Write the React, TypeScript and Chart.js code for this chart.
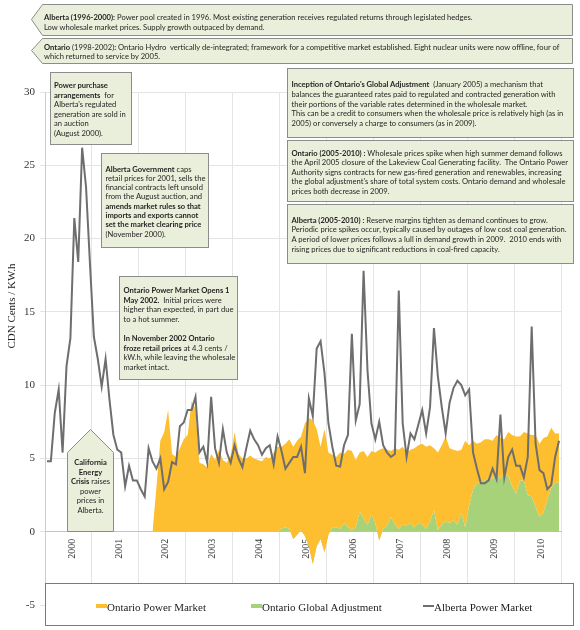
import React, { useEffect, useRef } from "react";
import { Chart, registerables } from "chart.js";

Chart.register(...registerables);

// ---------- data ----------
const startYear = 2000;
const yearLabels = ["2000", "2001", "2002", "2003", "2004", "2005", "2006", "2007", "2008", "2009", "2010"];
const yearGridLines = [2000, 2001, 2002, 2003, 2004, 2005, 2006, 2007, 2008, 2009, 2010, 2011];
const yAxisTitle = "CDN Cents / KW.h";
const legendLabels = ["Ontario Power Market", "Ontario Global Adjustment", "Alberta Power Market"];

// monthly, Jan 2000 .. Dec 2010
const albertaPowerMarket = [
  4.8, 4.8, 8.1, 9.7, 5.4, 11.3, 13.2, 21.4, 18.4, 26.2, 23.5, 18.3,
  13.3, 11.8, 9.9, 11.8, 9.0, 6.6, 5.6, 5.4, 3.1, 4.5, 3.5, 3.5,
  2.9, 2.4, 5.7, 4.8, 4.3, 5.0, 2.9, 3.4, 4.75, 4.6, 7.2, 7.45,
  8.3, 8.3, 9.2, 5.4, 5.8, 4.7, 9.2, 5.7, 4.7, 7.0, 5.4, 4.7,
  5.9, 5.0, 4.4, 5.7, 6.9, 6.3, 5.9, 5.25, 5.7, 5.9, 4.6, 6.5,
  5.5, 4.3, 4.7, 5.1, 5.1, 5.8, 4.0, 9.1, 7.9, 12.5, 13.0, 10.8,
  7.4, 5.8, 4.5, 4.45, 5.9, 6.6, 13.5, 7.6, 8.7, 17.8, 11.0, 7.4,
  6.3, 7.5, 5.9, 5.4, 5.1, 5.3, 16.45, 7.4, 5.1, 6.7, 6.3, 7.3,
  8.3, 6.7, 8.5, 13.9, 10.6, 8.5, 6.7, 8.8, 9.8, 10.3, 10.0, 9.3,
  9.7, 5.4, 4.3, 3.3, 3.3, 3.5, 4.3, 3.6, 8.0, 3.7, 5.1, 5.6,
  4.5, 4.5, 3.7, 5.1, 14.0, 6.0, 4.2, 4.0, 2.9, 3.2, 5.1, 6.2,
];

const ontarioPowerMarket = [
  null, null, null, null, null, null, null, null, null, null, null, null,
  null, null, null, null, null, null, null, null, null, null, null, null,
  null, null, null, 0, 3.0, 6.2, 6.8, 8.3, 5.3, 5.1, 5.7, 6.3,
  6.6, 8.9, 8.4, 4.7, 4.6, 4.4, 5.3, 4.9, 5.6, 4.9, 4.7, 5.2,
  6.8, 5.3, 5.0, 5.0, 5.2, 5.0, 4.9, 4.8, 5.1, 5.0, 5.4, 5.8,
  5.6, 5.7, 6.1, 6.3, 6.4, 6.4, 7.7, 8.75, 9.8, 8.0, 6.3, 8.4,
  5.6, 4.95, 4.8, 5.2, 4.7, 5.3, 5.4, 4.6, 4.0, 4.6, 4.6, 4.3,
  4.8, 6.2, 5.5, 5.2, 4.5, 5.2, 5.4, 5.3, 5.0, 5.0, 5.4, 5.3,
  5.5, 5.6, 5.2, 4.2, 5.3, 5.4, 5.8, 5.1, 4.8, 5.0, 4.3, 5.9,
  4.1, 3.3, 2.7, 2.7, 2.8, 2.6, 2.6, 2.6, 2.8, 2.3, 3.0, 3.5,
  3.9, 3.0, 3.3, 4.2, 4.2, 4.9, 5.0, 5.1, 4.3, 4.1, 3.4, 3.3,
];

const ontarioGlobalAdjustment = [
  0, 0, 0, 0, 0, 0, 0, 0, 0, 0, 0, 0,
  0, 0, 0, 0, 0, 0, 0, 0, 0, 0, 0, 0,
  0, 0, 0, 0, 0, 0, 0, 0, 0, 0, 0, 0,
  0, 0, 0, 0, 0, 0, 0, 0, 0, 0, 0, 0,
  0, 0, 0, 0, 0, 0, 0, 0, 0, 0, 0, 0,
  0.2, 0.3, 0.2, -0.5, -0.2, 0.1, -0.3, -1.0, -2.2, -1.0, -0.5, -1.4,
  -0.2, 0.3, 0.3, 0.2, 0.6, 0.3, 0.1, 0.3, 1.4, 0.9, 0.5, 1.2,
  0.6, -0.6, 0.2, 0.4, 1.0, 0.5, 0.2, 0.5, 0.4, 0.6, 0.3, 0.6,
  0.5, 0.2, 0.7, 1.5, 0.1, 0.5, 0.7, 0.6, 0.8, 0.5, 1.3, 0.3,
  1.8, 2.9, 3.3, 3.4, 3.5, 3.7, 3.6, 4.0, 3.6, 4.0, 3.8, 3.1,
  2.6, 3.5, 3.5, 2.5, 2.4, 1.7, 1.0, 1.3, 2.2, 3.0, 3.3, 3.4,
];

// ---------- styles ----------
const ORANGE = "#FDBE30";
const GREEN = "#A8D27A";
const GRAY_LINE = "#6e6e6e";
const BOX_FILL = "#e9efda";
const BOX_STROKE = "#8c8c8c";
const SERIF = '"Liberation Serif", "Times New Roman", serif';
const SANS = 'Lato, "Open Sans", sans-serif';

const monthX = (i: number) => startYear + (i + 0.5) / 12;

const textBase: React.CSSProperties = {
  position: "absolute",
  fontFamily: SANS,
  fontSize: 7.6,
  color: "#231f20",
  whiteSpace: "pre",
};

function TextBlock(props: { left: number; top: number; lh: number; width?: number; center?: boolean; children: React.ReactNode }) {
  return (
    <div
      style={{
        ...textBase,
        left: props.left,
        top: props.top,
        lineHeight: props.lh + "px",
        width: props.width,
        textAlign: props.center ? "center" : "left",
      }}
    >
      {props.children}
    </div>
  );
}

export default function App() {
  const canvasRef = useRef<HTMLCanvasElement | null>(null);

  useEffect(() => {
    const canvas = canvasRef.current;
    if (!canvas) return;
    const setYearTicks = (s: any) => {
      s.ticks = yearGridLines.map((v) => ({ value: v }));
    };
    const chart = new Chart(canvas, {
      type: "line",
      data: {
        datasets: [
          {
            label: legendLabels[2],
            data: albertaPowerMarket.map((v, i) => ({ x: monthX(i), y: v })),
            borderColor: GRAY_LINE,
            borderWidth: 2,
            pointRadius: 0,
            fill: false,
            tension: 0,
            order: 0,
          },
          {
            label: legendLabels[0],
            data: ontarioPowerMarket.map((v, i) => ({
              x: monthX(i),
              y: v === null ? null : v + ontarioGlobalAdjustment[i],
            })),
            borderWidth: 0,
            borderColor: "rgba(0,0,0,0)",
            backgroundColor: ORANGE,
            pointRadius: 0,
            fill: 2,
            tension: 0,
            order: 1,
          },
          {
            label: legendLabels[1],
            data: ontarioGlobalAdjustment.map((v, i) => ({ x: monthX(i), y: v })),
            borderWidth: 0,
            borderColor: "rgba(0,0,0,0)",
            backgroundColor: GREEN,
            pointRadius: 0,
            fill: "origin",
            tension: 0,
            order: 2,
          },
        ] as any,
      },
      options: {
        animation: false,
        responsive: false,
        maintainAspectRatio: false,
        layout: { padding: { top: 92, right: 7, bottom: 25, left: 0 } },
        plugins: { legend: { display: false }, tooltip: { enabled: false } },
        scales: {
          x: {
            type: "linear",
            position: { y: 0 } as any,
            min: 2000,
            max: 2011,
            afterBuildTicks: setYearTicks,
            ticks: { display: false },
            grid: { color: "#e4e4e4", drawTicks: false },
            border: { display: true, color: "#c4c4c4" },
          },
          xYears: {
            type: "linear",
            axis: "x",
            position: { y: 0 } as any,
            min: 2000,
            max: 2011,
            z: 1,
            afterBuildTicks: setYearTicks,
            grid: { display: false, drawTicks: false },
            border: { display: false },
            ticks: {
              autoSkip: false,
              minRotation: 90,
              maxRotation: 90,
              labelOffset: 27,
              padding: 7,
              color: "#333",
              font: { family: SERIF, size: 10 },
              callback: (v: any) => yearLabels[Math.round(Number(v)) - startYear] ?? "",
            },
          } as any,
          y: {
            type: "linear",
            min: -5,
            max: 30,
            afterFit: (s: any) => {
              s.width = 45;
            },
            ticks: { stepSize: 5, padding: 5, color: "#333", font: { family: SERIF, size: 11 } },
            grid: { color: "#e4e4e4", tickLength: 5 },
            border: { color: "#cccccc" },
          },
        },
      } as any,
    });
    return () => chart.destroy();
  }, []);

  return (
    <div style={{ position: "absolute", left: 0, top: 0, width: 580, height: 630, background: "#fff", overflow: "hidden" }}>
      <canvas ref={canvasRef} width={580} height={630} style={{ position: "absolute", left: 0, top: 0, width: 580, height: 630 }} />

      {/* box shapes */}
      <svg width={580} height={630} style={{ position: "absolute", left: 0, top: 0, pointerEvents: "none" }}>
        <g fill={BOX_FILL} stroke={BOX_STROKE} strokeWidth={1}>
          <polygon points="31.5,19.5 42.5,4.5 572.5,4.5 572.5,35.5 42.5,35.5" />
          <polygon points="31.5,50.5 42.5,38.5 572.5,38.5 572.5,63.5 42.5,63.5" />
          <rect x={50.5} y={72.5} width={81} height={72} />
          <rect x={101.5} y={153.5} width={107} height={94} />
          <rect x={119.5} y={276.5} width={118} height={103} />
          <polygon points="90.5,429.5 113.5,452.5 113.5,531.5 67.5,531.5 67.5,452.5" />
          <rect x={287.5} y={68.5} width={286} height={69} />
          <rect x={287.5} y={140.5} width={286} height={61} />
          <rect x={287.5} y={204.5} width={286} height={59} />
        </g>
      </svg>

      <TextBlock left={44} top={12} lh={10}>
        <b>Alberta (1996-2000):</b> Power pool created in 1996. Most existing generation receives regulated returns through legislated hedges.{"\n"}
        Low wholesale market prices. Supply growth outpaced by demand.
      </TextBlock>
      <TextBlock left={44} top={42.5} lh={9.5}>
        <b>Ontario</b> (1998-2002)<b>:</b> Ontario Hydro  vertically de-integrated; framework for a competitive market established. Eight nuclear units were now offline, four of{"\n"}
        which returned to service by 2005.
      </TextBlock>
      <TextBlock left={54} top={81} lh={9.5}>
        <b>Power purchase</b>{"\n"}
        <b>arrangements</b>  for{"\n"}
        Alberta's regulated{"\n"}
        generation are sold in{"\n"}
        an auction{"\n"}
        (August 2000).
      </TextBlock>
      <TextBlock left={105.5} top={164.6} lh={9.3}>
        <b>Alberta Government</b> caps{"\n"}
        retail prices for 2001, sells the{"\n"}
        financial contracts left unsold{"\n"}
        from the August auction, and{"\n"}
        <b>amends market rules so that</b>{"\n"}
        <b>imports and exports cannot</b>{"\n"}
        <b>set the market clearing price</b>{"\n"}
        (November 2000).
      </TextBlock>
      <TextBlock left={123.5} top={286.2} lh={9.6}>
        <b>Ontario Power Market Opens 1</b>{"\n"}
        <b>May 2002.</b>  Initial prices were{"\n"}
        higher than expected, in part due{"\n"}
        to a hot summer.{"\n"}
        {"\n"}
        <b>In November 2002 Ontario</b>{"\n"}
        <b>froze retail prices</b> at 4.3 cents /{"\n"}
        kW.h, while leaving the wholesale{"\n"}
        market intact.
      </TextBlock>
      <TextBlock left={67.5} width={46} top={458} lh={9.5} center>
        <b>California</b>{"\n"}
        <b>Energy</b>{"\n"}
        <b>Crisis</b> raises{"\n"}
        power{"\n"}
        prices in{"\n"}
        Alberta.
      </TextBlock>
      <TextBlock left={291.5} top={80.2} lh={9.7}>
        <b>Inception of Ontario's Global Adjustment</b>  (January 2005) a mechanism that{"\n"}
        balances the guaranteed rates paid to regulated and contracted generation with{"\n"}
        their portions of the variable rates determined in the wholesale market.{"\n"}
        This can be a credit to consumers when the wholesale price is relatively high (as in{"\n"}
        2005) or conversely a charge to consumers (as in 2009).
      </TextBlock>
      <TextBlock left={291.5} top={148.5} lh={9.6}>
        <b>Ontario (2005-2010) :</b> Wholesale prices spike when high summer demand follows{"\n"}
        the April 2005 closure of the Lakeview Coal Generating facility.  The Ontario Power{"\n"}
        Authority signs contracts for new gas-fired generation and renewables, increasing{"\n"}
        the global adjustment's share of total system costs. Ontario demand and wholesale{"\n"}
        prices both decrease in 2009.
      </TextBlock>
      <TextBlock left={291.5} top={215.9} lh={9.6}>
        <b>Alberta (2005-2010) :</b> Reserve margins tighten as demand continues to grow.{"\n"}
        Periodic price spikes occur, typically caused by outages of low cost coal generation.{"\n"}
        A period of lower prices follows a lull in demand growth in 2009.  2010 ends with{"\n"}
        rising prices due to significant reductions in coal-fired capacity.
      </TextBlock>

      {/* y axis title */}
      <div
        style={{
          position: "absolute",
          left: 11,
          top: 306,
          transform: "translate(-50%, -50%) rotate(-90deg)",
          fontFamily: SERIF,
          fontSize: 11,
          color: "#222",
          whiteSpace: "nowrap",
        }}
      >
        {yAxisTitle}
      </div>

      {/* legend */}
      <div
        style={{
          position: "absolute",
          left: 45,
          top: 583,
          width: 529,
          height: 43,
          border: "1px solid #7a7a7a",
          boxSizing: "border-box",
          background: "#fff",
        }}
      />
      <div style={{ position: "absolute", left: 96, top: 603.5, width: 11, height: 4, background: ORANGE }} />
      <div style={{ position: "absolute", left: 107, top: 601, fontFamily: SERIF, fontSize: 11, lineHeight: "12px", color: "#222", whiteSpace: "nowrap" }}>
        {legendLabels[0]}
      </div>
      <div style={{ position: "absolute", left: 251, top: 603.5, width: 11, height: 4, background: GREEN }} />
      <div style={{ position: "absolute", left: 262, top: 601, fontFamily: SERIF, fontSize: 11, lineHeight: "12px", color: "#222", whiteSpace: "nowrap" }}>
        {legendLabels[1]}
      </div>
      <div style={{ position: "absolute", left: 423, top: 604.5, width: 11, height: 2, background: GRAY_LINE }} />
      <div style={{ position: "absolute", left: 434, top: 601, fontFamily: SERIF, fontSize: 11, lineHeight: "12px", color: "#222", whiteSpace: "nowrap" }}>
        {legendLabels[2]}
      </div>
    </div>
  );
}
